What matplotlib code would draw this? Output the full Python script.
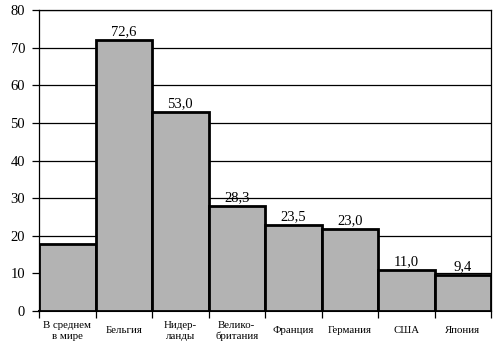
import matplotlib
matplotlib.use("Agg")
import matplotlib.pyplot as plt
import matplotlib.transforms as mtransforms

categories = ["В среднем\nв мире", "Бельгия", "Нидер-\nланды", "Велико-\nбритания",
              "Франция", "Германия", "США", "Япония"]
heights = [17.8, 72.0, 52.9, 28.0, 22.9, 21.8, 10.9, 9.6]
value_labels = ["", "72,6", "53,0", "28,3", "23,5", "23,0", "11,0", "9,4"]
yticks = [0, 10, 20, 30, 40, 50, 60, 70, 80]

plt.rcParams['font.family'] = ['Liberation Serif', 'DejaVu Serif']

fig = plt.figure(figsize=(4.94, 3.51), dpi=100)
ax = fig.add_axes([39/494, 1-311/351, 452/494, 301/351])

ax.set_ylim(0, 80)
ax.set_xlim(0, len(categories))
ax.set_yticks(yticks)
ax.yaxis.grid(True, color='black', linewidth=0.9)
ax.set_axisbelow(True)

xs = list(range(len(categories)))
ax.bar(xs, heights, width=1.0, align='edge', color='#b3b3b3',
       edgecolor='black', linewidth=2.0, zorder=3)

for x, h, lab in zip(xs, heights, value_labels):
    if lab:
        ax.text(x + 0.5, h + 0.5, lab, ha='center', va='bottom', fontsize=10.5, zorder=4)

ax.set_xticks(list(range(len(categories) + 1)))
ax.set_xticklabels([])
ax.tick_params(axis='x', length=5, width=0.9, color='black', direction='out')
ax.tick_params(axis='y', length=5, width=0.9, color='black', labelsize=10.5, pad=5)

trans = mtransforms.blended_transform_factory(ax.transData, ax.transAxes)
for x, cat in zip(xs, categories):
    ax.text(x + 0.5, -0.066, cat, transform=trans, ha='center', va='center',
            fontsize=7.8, linespacing=1.25)

for side in ['top', 'right', 'left', 'bottom']:
    ax.spines[side].set_color('black')
    ax.spines[side].set_linewidth(0.9)
ax.spines['bottom'].set_linewidth(1.5)

fig.savefig("out.png", dpi=100)
